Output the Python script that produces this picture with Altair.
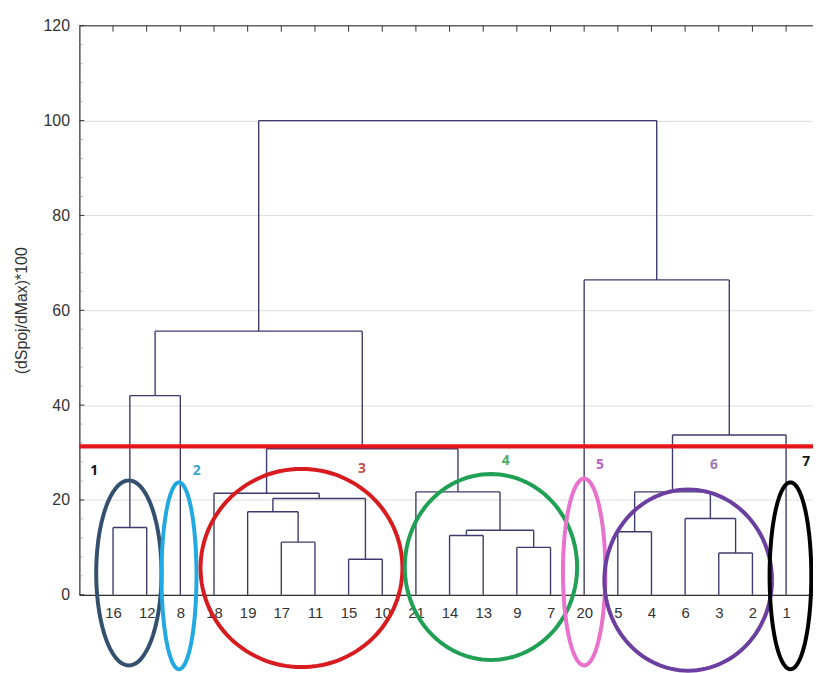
import altair as alt
import pandas as pd
import numpy as np

# ---- data ----
leaves = ["16", "12", "8", "18", "19", "17", "11", "15", "10", "21", "14",
          "13", "9", "7", "20", "5", "4", "6", "3", "2", "1"]
# merges: (left, right, linkage height); "mK" refers to the K-th merge
merge_left = ["16", "m0", "17", "19", "15", "m3", "18", "14", "9", "m7",
              "21", "m6", "m1", "5", "3", "6", "m13", "m16", "20", "m12"]
merge_right = ["12", "8", "11", "m2", "10", "m4", "m5", "13", "7", "m8",
               "m9", "m10", "m11", "4", "2", "m14", "m15", "1", "m17", "m18"]
merge_height = [14.2, 42.0, 11.1, 17.5, 7.5, 20.3, 21.4, 12.5, 10.0, 13.6,
                21.7, 30.8, 55.6, 13.3, 8.8, 16.1, 21.7, 33.7, 66.4, 100.0]
cut_height = 31.3

grp_names = ["1", "2", "3", "4", "5", "6", "7"]
grp_label_x = [0.44, 3.49, 8.40, 12.67, 15.47, 18.86, 21.6]
grp_label_y = [26.2, 26.0, 26.6, 28.3, 27.3, 27.3, 28.0]
grp_label_color = ["#111111", "#3ba3cf", "#c0504d", "#4aab6a", "#bb62c9", "#9c7db6", "#111111"]
ell_cx = [1.47, 2.96, 6.60, 12.23, 15.0, 18.09, 21.13]
ell_cy = [4.6, 4.0, 5.65, 5.86, 4.8, 3.1, 4.0]
ell_rx = [0.97, 0.52, 3.0, 2.56, 0.63, 2.49, 0.62]
ell_ry = [19.5, 19.7, 20.9, 19.6, 19.7, 19.1, 19.7]
ell_color = ["#34506e", "#23a9e1", "#d81b1f", "#1fa055", "#e872cc", "#6b3fa0", "#000000"]

y_major = [0, 20, 40, 60, 80, 100, 120]
y_minor = [v for v in range(0, 121, 4) if v % 20]

# ---- build dendrogram segments from linkage ----
pos = {lab: i + 1 for i, lab in enumerate(leaves)}
hgt = {lab: 0.0 for lab in leaves}
segs = []
for k, (a, b, h) in enumerate(zip(merge_left, merge_right, merge_height)):
    xa, xb = pos[a], pos[b]
    segs.append(dict(x=xa, y=hgt[a], x2=xa, y2=h))
    segs.append(dict(x=xb, y=hgt[b], x2=xb, y2=h))
    segs.append(dict(x=xa, y=h, x2=xb, y2=h))
    pos["m%d" % k] = (xa + xb) / 2
    hgt["m%d" % k] = h
seg_df = pd.DataFrame(segs)

ell_rows = []
t = np.linspace(0, 2 * np.pi, 121)
for i in range(len(grp_names)):
    for j, tt in enumerate(t):
        ell_rows.append(dict(g=grp_names[i], o=j,
                             ex=ell_cx[i] + ell_rx[i] * np.cos(tt),
                             ey=ell_cy[i] + ell_ry[i] * np.sin(tt),
                             c=ell_color[i]))
ell_df = pd.DataFrame(ell_rows)

lab_df = pd.DataFrame(dict(g=grp_names, lx=grp_label_x, ly=grp_label_y, c=grp_label_color))
leaf_df = pd.DataFrame(dict(x=list(range(1, len(leaves) + 1)), lab=leaves))
minor_df = pd.DataFrame(dict(v=y_minor))
major_df = pd.DataFrame(dict(v=y_major))

# ---- scales / axes ----
label_arr = "[" + ",".join("'%s'" % l for l in leaves) + "]"
xscale = alt.Scale(domain=[0, 21.8], nice=False, zero=False)
yscale = alt.Scale(domain=[0, 120], nice=False, zero=False)
xaxis = alt.Axis(values=list(range(1, len(leaves) + 1)), labelExpr=label_arr + "[datum.value - 1]",
                 ticks=False, tickSize=0, grid=False, title=None, labelPadding=11,
                 labelFontSize=15, labelFont="Liberation Sans", labelColor="#333333",
                 domainColor="#333333", domainWidth=1.2, labelFlush=False, labelOverlap=False)
yaxis = alt.Axis(values=y_major, ticks=False, tickSize=0, grid=True, gridColor="#dddddd",
                 labelPadding=10, labelFontSize=16, labelFont="Liberation Sans",
                 labelColor="#333333", domainColor="#333333", domainWidth=1.2,
                 title="(dSpoj/dMax)*100", titleFont="Liberation Sans", titleFontSize=16,
                 titleFontWeight="normal", titleColor="#333333", titleX=-58, titleY=287,
                 titleAngle=-90, titleAlign="center", titleBaseline="middle")

X = lambda f: alt.X(f, type="quantitative", scale=xscale, axis=xaxis)
Y = lambda f: alt.Y(f, type="quantitative", scale=yscale, axis=yaxis)

dendro = alt.Chart(seg_df).mark_rule(color="#3c3c6c", strokeWidth=1.4).encode(
    x=X("x"), y=Y("y"), x2="x2", y2="y2")

top_line = alt.Chart(major_df).transform_filter("datum.v == 120").mark_rule(
    color="#333333", strokeWidth=1.2).encode(y=Y("v"))

top_ticks = alt.Chart(leaf_df).mark_rule(color="#333333", strokeWidth=1).encode(
    x=X("x"), y=alt.value(0), y2=alt.value(6))

minor_ticks = alt.Chart(minor_df).mark_rule(color="#999999", strokeWidth=1).encode(
    y=Y("v"), x=alt.value(0), x2=alt.value(3))
major_ticks = alt.Chart(major_df).mark_rule(color="#333333", strokeWidth=1).encode(
    y=Y("v"), x=alt.value(0), x2=alt.value(5))

cut = alt.Chart(pd.DataFrame(dict(v=[cut_height]))).mark_rule(
    color="#e3161b", strokeWidth=4.5).encode(y=Y("v"))

ellipses = alt.Chart(ell_df).mark_line(strokeWidth=4, clip=False).encode(
    x=X("ex"), y=Y("ey"), detail="g:N", order="o:Q",
    color=alt.Color("c:N", scale=None))

labels = alt.Chart(lab_df).mark_text(font="Open Sans", fontWeight="bold", fontSize=14,
                                     baseline="middle", align="center").encode(
    x=X("lx"), y=Y("ly"), text="g:N", color=alt.Color("c:N", scale=None))

chart = alt.layer(dendro, top_line, top_ticks, minor_ticks, major_ticks, cut, ellipses, labels).properties(
    width=740, height=574,
    autosize=alt.AutoSizeParams(type="none"),
    padding={"left": 72, "top": 15, "right": 0, "bottom": 76},
).configure_view(stroke="#dddddd", strokeWidth=1).configure(background="white")

chart.save("out.html", embed_options={"renderer": "svg", "actions": False})
